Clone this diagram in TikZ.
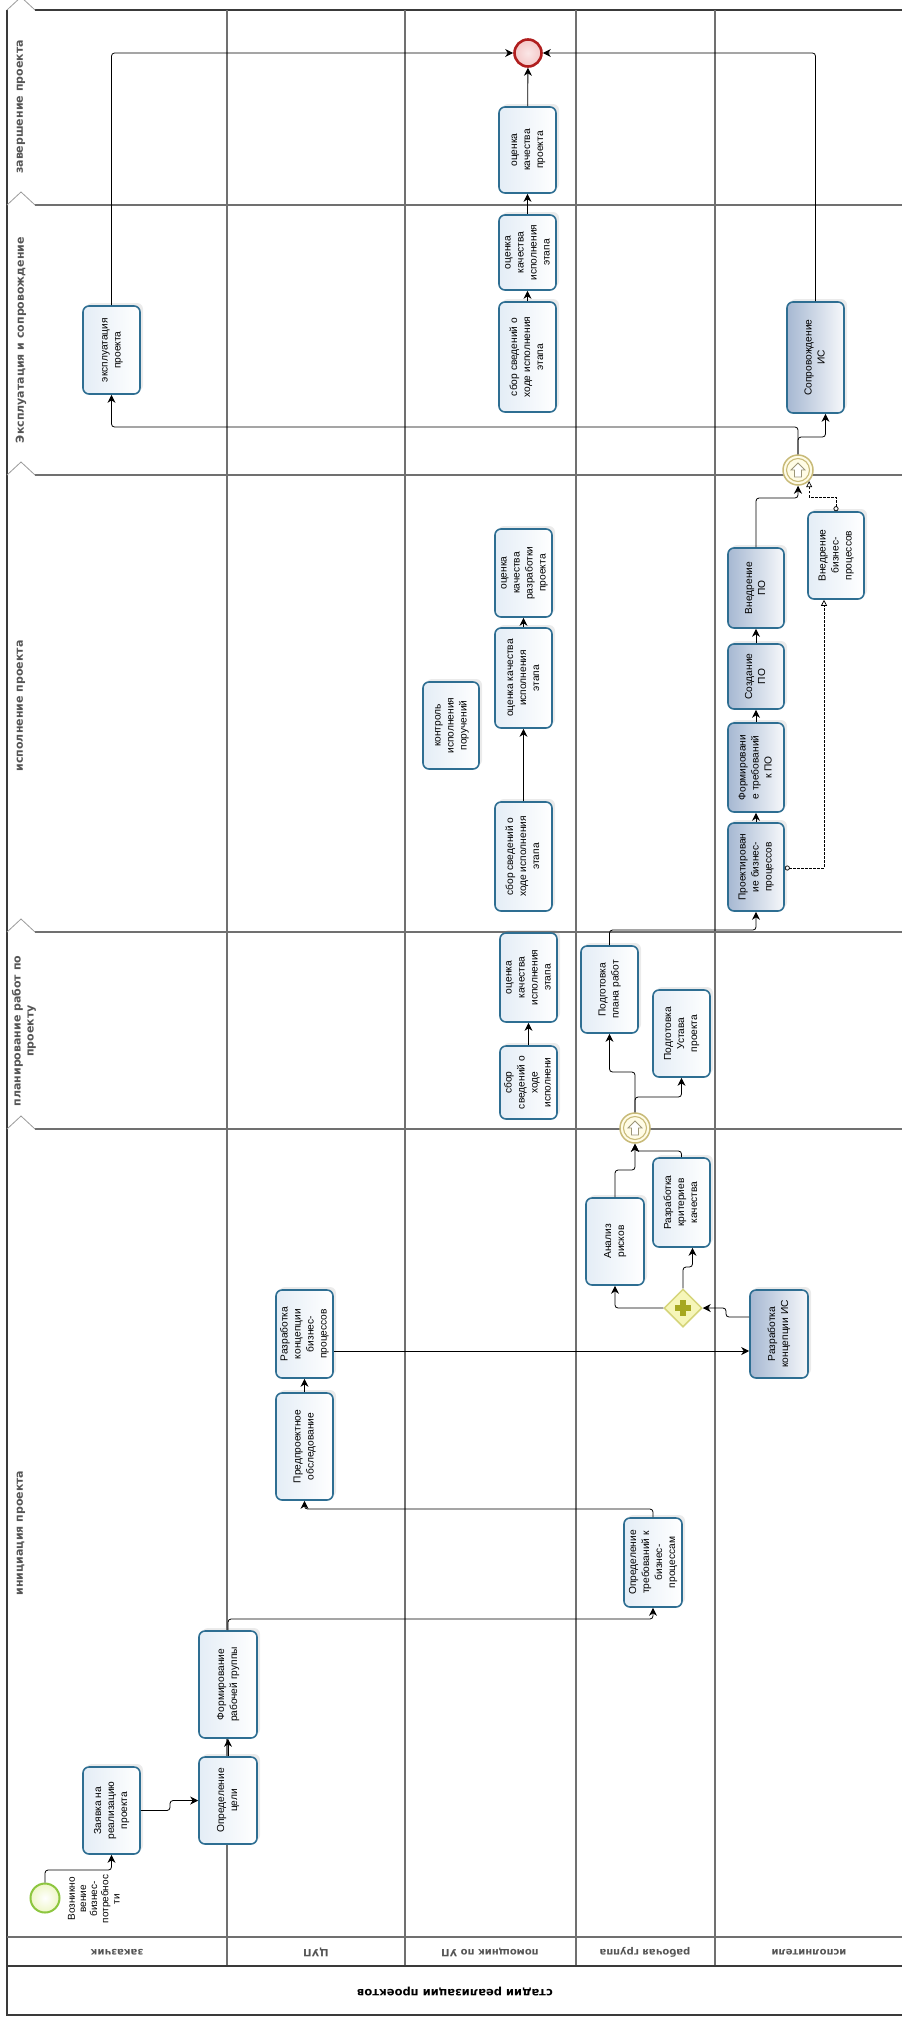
\documentclass[tikz,border=0pt]{standalone}
\usepackage{fontspec}
\setmainfont{Liberation Sans}
\newfontfamily\hdfont{DejaVu Sans}
\usetikzlibrary{shapes.geometric,arrows.meta,shadows,calc}

\definecolor{taskline}{HTML}{2E6E92}
\definecolor{tasklight}{HTML}{E4EDF6}
\definecolor{taskdark}{HTML}{A6B8D2}
\definecolor{laneline}{HTML}{707070}
\definecolor{frameline}{HTML}{3A3A3A}
\definecolor{chevline}{HTML}{9A9A9A}
\definecolor{hdtext}{HTML}{555555}
\definecolor{escline}{HTML}{C8BA78}
\definecolor{escicon}{HTML}{9C9678}
\definecolor{escfill}{HTML}{FFFCE6}
\definecolor{gwfill}{HTML}{F6F6B9}
\definecolor{gwline}{HTML}{D5D479}
\definecolor{gwplus}{HTML}{A6A820}
\definecolor{startline}{HTML}{8DC63F}
\definecolor{startfill}{HTML}{EEF6C6}
\definecolor{endline}{HTML}{B01E1E}
\definecolor{endfill}{HTML}{F4C8C8}

% rotated multi-line task caption
\newcommand{\vt}[1]{\rotatebox{90}{\begin{tabular}{@{}c@{}}#1\end{tabular}}}

\begin{document}
\begin{tikzpicture}[x=1pt,y=-1pt,
  task/.style={draw=taskline, line width=1.6pt, rounded corners=6pt, inner sep=0pt,
    minimum width=57pt, left color=tasklight, right color=white,
    font=\fontsize{10.2}{13}\selectfont,
    drop shadow={shadow xshift=3pt, shadow yshift=3pt, opacity=0.16}},
  dtask/.style={task, left color=taskdark, right color=white!90!taskdark},
  flow/.style={draw=black, line width=0.8pt, rounded corners=3pt,
    -{Stealth[length=8pt,width=8pt,inset=2.5pt]}},
  assoc/.style={draw=black, line width=0.7pt, dash pattern=on 2.5pt off 1.5pt,
    {Circle[open,length=5pt,width=5pt]}-{Triangle[open,length=6pt,width=6pt]}},
  lane/.style={draw=laneline, line width=1.3pt},
  frame/.style={draw=frameline, line width=1.2pt},
  chev/.style={draw=chevline, line width=0.8pt},
  phaselbl/.style={font=\hdfont\bfseries\fontsize{11}{13}\selectfont, text=hdtext,
    rotate=90, align=center, inner sep=0pt},
  lanelbl/.style={font=\hdfont\bfseries\fontsize{10}{11}\selectfont, text=hdtext,
    rotate=180, inner sep=0pt},
  startev/.style={circle, draw=startline, line width=2pt, inner color=white,
    outer color=startfill, minimum size=29pt, inner sep=0pt},
  endev/.style={circle, draw=endline, line width=2.6pt, inner color=white!55!endfill,
    outer color=endfill, minimum size=27pt, inner sep=0pt},
  escev/.style={circle, draw=escline, line width=1.5pt, fill=escfill,
    minimum size=30pt, inner sep=0pt,
    path picture={
      \draw[escline, line width=1.1pt] (path picture bounding box.center) circle (11.5pt);
      \draw[escicon, line width=0.8pt, fill=white]
        ($(path picture bounding box.center)+(-3.5,7)$) -- ++(7,0) -- ++(0,-7)
        -- ++(3.5,0) -- ++(-7,-7) -- ++(-7,7) -- ++(3.5,0) -- cycle;
    }},
  pargw/.style={diamond, aspect=1, draw=gwline, line width=1.5pt, fill=gwfill,
    minimum width=38pt, minimum height=38pt, inner sep=0pt,
    path picture={
      \fill[gwplus] ($(path picture bounding box.center)+(-8,-2.7)$) rectangle ++(16,5.4);
      \fill[gwplus] ($(path picture bounding box.center)+(-2.7,-8)$) rectangle ++(5.4,16);
    }},
]
\useasboundingbox (0,0) rectangle (902,2022);

% ---------- pool frame, phases and lanes ----------
\draw[frame] (35,10) -- (902,10);
\draw[frame] (7,10) -- (7,2015) -- (902,2015);
\foreach \py in {205,475,932,1129} \draw[lane] (35,\py) -- (902,\py);
\foreach \py in {10,205,475,932,1129} \draw[chev] (7,\py) -- (21,\py-13) -- (35,\py);
\foreach \lx in {227,405,576,715} \draw[lane] (\lx,10) -- (\lx,1966);
\draw[lane] (7,1937) -- (902,1937);
\draw[frame] (7,1966) -- (902,1966);

% phase captions
\node[phaselbl] (ph5) at (21,107) {завершение проекта};
\node[phaselbl] (ph4) at (21,340) {Эксплуатация и сопровождение};
\node[phaselbl] (ph3) at (21,706) {исполнение проекта};
\node[phaselbl] (ph2) at (24,1031) {планирование работ по\\проекту};
\node[phaselbl] (ph1) at (21,1533) {инициация проекта};

% lane captions and pool caption
\node[lanelbl] (l1) at (117,1952) {заказчик};
\node[lanelbl] (l2) at (316,1952) {ЦУП};
\node[lanelbl] (l3) at (490,1952) {помощник по УП};
\node[lanelbl] (l4) at (645,1952) {рабочая группа};
\node[lanelbl] (l5) at (809,1952) {исполнители};
\node[font=\hdfont\bfseries\fontsize{11.5}{13}\selectfont, rotate=180, inner sep=0pt]
  (pool) at (455,1991) {стадии реализации проектов};

% ---------- заказчик ----------
\node[startev] (start) at (45,1898) {};
\node[font=\fontsize{10}{11.2}\selectfont, inner sep=0pt] (startlbl) at (95,1899)
  {\vt{Возникно\\вение\\бизнес-\\потребнос\\ти}};
\node[task, minimum height=87pt] (zayavka) at (111.5,1810.5) {\vt{Заявка на\\реализацию\\проекта}};
\node[task, minimum height=88pt] (ekspl) at (111.5,350) {\vt{эксплуатация\\проекта}};

% ---------- ЦУП ----------
\node[task, minimum width=58pt, minimum height=87pt] (goal) at (228,1800.5) {\vt{Определение\\цели}};
\node[task, minimum width=58pt, minimum height=107pt] (formgr) at (228,1684.5) {\vt{Формирование\\рабочей группы}};
\node[task, minimum height=107pt] (predpr) at (304.5,1446.5) {\vt{Предпроектное\\обследование}};
\node[task, minimum height=88pt] (konbp) at (304.5,1334) {\vt{Разработка\\концепции\\бизнес-\\процессов}};

% ---------- помощник по УП ----------
\node[task, minimum height=73pt] (sbor3) at (528.5,1082.5) {\vt{сбор\\сведений о\\ходе\\исполнени}};
\node[task, minimum height=89pt] (ocen3) at (528.5,977.5) {\vt{оценка\\качества\\исполнения\\этапа}};
\node[task, minimum height=109pt] (sbor2) at (523.5,856.5) {\vt{сбор сведений о\\ходе исполнения\\этапа}};
\node[task, minimum height=100pt] (ocen2) at (523.5,678) {\vt{оценка качества\\исполнения\\этапа}};
\node[task, minimum height=88pt] (ocenrazr) at (523.5,573) {\vt{оценка\\качества\\разработки\\проекта}};
\node[task, minimum width=56pt, minimum height=87pt] (kontrol) at (451,725.5) {\vt{контроль\\исполнения\\поручений}};
\node[task, minimum height=110pt] (sbor1) at (527.5,357) {\vt{сбор сведений о\\ходе исполнения\\этапа}};
\node[task, minimum height=75pt] (ocen1) at (527.5,252.5) {\vt{оценка\\качества\\исполнения\\этапа}};
\node[task, minimum height=86pt] (ocenpr) at (527.5,150) {\vt{оценка\\качества\\проекта}};
\node[endev] (end) at (528,53) {};

% ---------- рабочая группа ----------
\node[task, minimum width=58pt, minimum height=89pt] (treb) at (653,1562.5) {\vt{Определение\\требований к\\бизнес-\\процессам}};
\node[pargw] (gate) at (683,1308) {};
\node[task, minimum width=58pt, minimum height=87pt] (analiz) at (615,1241.5) {\vt{Анализ\\рисков}};
\node[task, minimum height=89pt] (krit) at (681.5,1202.5) {\vt{Разработка\\критериев\\качества}};
\node[escev] (esc1) at (635,1128) {};
\node[task, minimum height=87pt] (plan) at (609.5,989.5) {\vt{Подготовка\\плана работ}};
\node[task, minimum height=87pt] (ustav) at (681.5,1033.5) {\vt{Подготовка\\Устава\\проекта}};

% ---------- исполнители ----------
\node[dtask, minimum width=58pt, minimum height=88pt] (konis) at (779,1334) {\vt{Разработка\\концепции ИС}};
\node[dtask, minimum width=56pt, minimum height=88pt] (proekt) at (756,867) {\vt{Проектирован\\ие бизнес-\\процессов}};
\node[dtask, minimum width=56pt, minimum height=89pt] (formpo) at (756,767.5) {\vt{Формировани\\е требований\\к ПО}};
\node[dtask, minimum width=56pt, minimum height=65pt] (sozd) at (756,676.5) {\vt{Создание\\ПО}};
\node[dtask, minimum width=56pt, minimum height=80pt] (vnedpo) at (756,588) {\vt{Внедрение\\ПО}};
\node[task, minimum width=56pt, minimum height=87pt] (vnedbp) at (836,555.5) {\vt{Внедрение\\бизнес-\\процессов}};
\node[escev] (esc2) at (798,470) {};
\node[dtask, minimum height=111pt] (sopr) at (815.5,357.5) {\vt{Сопровождение\\ИС}};

% ---------- sequence flows ----------
\draw[flow] (start.north) -- (start.north |- 0,1870) -| (zayavka.south);
\draw[flow] (zayavka.east) -- (zayavka.east -| 170,0) |- (goal.west);
\draw[flow] (goal) -- (formgr);
\draw[flow] (formgr.north) -- (formgr.north |- 0,1619) -| (treb.south);
\draw[flow] (treb.north) -- (treb.north |- 0,1509) -| (predpr.south);
\draw[flow] (predpr) -- (konbp);
\draw[flow] (konbp.east |- 0,1351) -- (konis.west |- 0,1351);
\draw[flow] (konis.west |- 0,1317) -| (gate.east -| 726,0) -- (gate.east);
\draw[flow] (gate.west) -| (analiz.south);
\draw[flow] (gate.north) -- (gate.north |- 0,1267) -| ([xshift=11pt]krit.south);
\draw[flow] (analiz.north) -- (analiz.north |- 0,1170) -| (esc1.south);
\draw[flow] (krit.north) -- (krit.north |- 0,1151) -| (esc1.south);
\draw[flow] (esc1.north) -- (esc1.north |- 0,1072) -| (plan.south);
\draw[flow] (esc1.north) -- (esc1.north |- 0,1097) -| (ustav.south);
\draw[flow] (sbor3) -- (ocen3);
\draw[flow] (plan.north) -- (plan.north |- 0,930) -| (proekt.south);
\draw[flow] (proekt) -- (formpo);
\draw[flow] (formpo) -- (sozd);
\draw[flow] (sozd) -- (vnedpo);
\draw[flow] (sbor2) -- (ocen2);
\draw[flow] (ocen2) -- (ocenrazr);
\draw[assoc] (proekt.east |- 0,868) -| ([xshift=-12pt]vnedbp.south);
\draw[flow] (vnedpo.north) -- (vnedpo.north |- 0,498) -| (esc2.south);
\draw[assoc] (vnedbp.north) -- (vnedbp.north |- 0,497) -| (esc2.south east);
\draw[flow] (esc2.north) -- (esc2.north |- 0,427) -| (ekspl.south);
\draw[flow] (esc2.north) -- (esc2.north |- 0,437) -| ([xshift=10pt]sopr.south);
\draw[flow] (sbor1) -- (ocen1);
\draw[flow] (ocen1) -- (ocenpr);
\draw[flow] (ocenpr) -- (end);
\draw[flow] (ekspl.north) |- (end.west);
\draw[flow] (sopr.north) |- (end.east);
\end{tikzpicture}
\end{document}
